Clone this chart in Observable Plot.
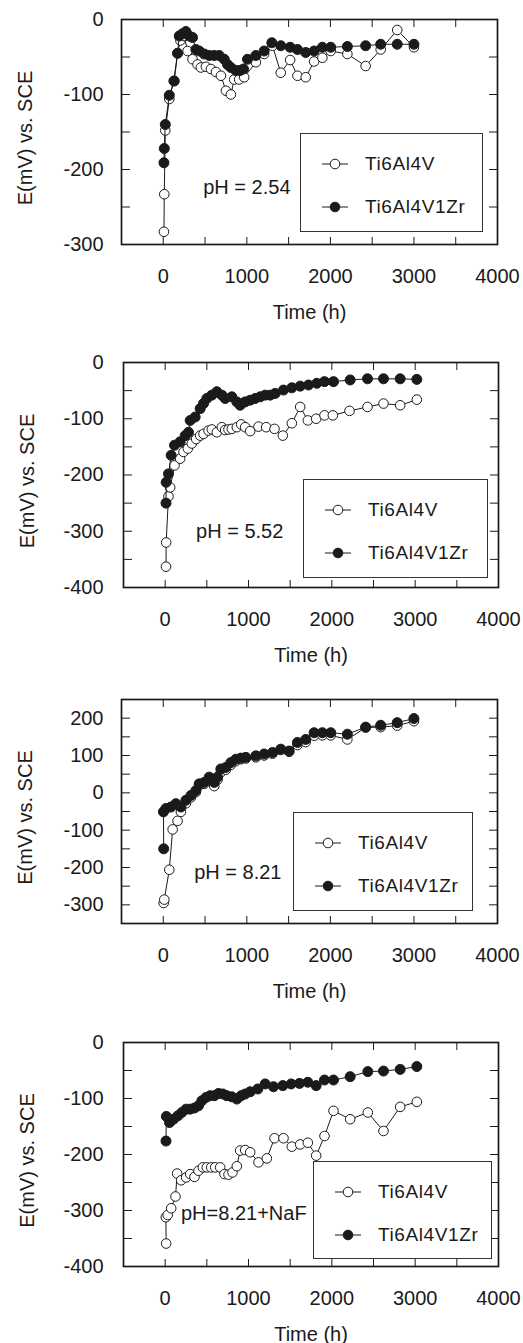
<!DOCTYPE html>
<html>
<head>
<meta charset="utf-8">
<script src="https://cdn.jsdelivr.net/npm/d3@7"></script>
<script src="https://cdn.jsdelivr.net/npm/@observablehq/plot@0.6"></script>
<style>
  html, body { margin: 0; padding: 0; background: #fff; }
  #root { position: relative; width: 523px; height: 1343px; font-family: "Liberation Sans", Arial, sans-serif; color: #1a1a1a; }
  .panel { position: absolute; left: 0; }
  .legend { position: absolute; background: #fff; border: 1px solid #333; box-sizing: border-box; }
  .row { position: absolute; left: 0; display: flex; align-items: center; font-size: 19px; letter-spacing: 0.6px; }
  .row svg { margin-right: 7px; }
</style>
</head>
<body>
<div id="root"></div>
<script>
// ---------- data ----------
const seriesNames = ["Ti6Al4V", "Ti6Al4V1Zr"];
const xMajorTicks = [0, 1000, 2000, 3000, 4000];
const xMinorTicks = [0, 500, 1000, 1500, 2000, 2500, 3000, 3500];
const phLabels = ["pH = 2.54", "pH = 5.52", "pH = 8.21", "pH=8.21+NaF"];

// Panel 1: pH 2.54
const tA1 = [8,12,24,72,125,171,205,250,291,350,410,450,510,570,630,690,750,809,849,908,968,1108,1207,1307,1406,1518,1606,1705,1805,1904,2004,2203,2422,2602,2800,3000];
const eA1 = [-283,-233,-148,-106,-82,-45,-28,-22,-42,-53,-60,-64,-63,-66,-70,-75,-95,-100,-80,-80,-77,-57,-46,-35,-71,-54,-75,-77,-56,-51,-42,-46,-62,-40,-14,-37];
const tB1 = [8,12,24,72,131,171,191,231,271,311,350,390,430,490,550,610,669,729,769,809,869,920,960,1008,1108,1207,1299,1406,1518,1606,1705,1805,1904,2004,2203,2422,2602,2800,3000];
const eB1 = [-191,-172,-140,-101,-82,-45,-22,-19,-16,-22,-24,-40,-42,-46,-48,-48,-48,-53,-60,-64,-68,-68,-66,-53,-48,-42,-31,-35,-37,-40,-44,-42,-37,-37,-36,-35,-33,-33,-33];

// Panel 2: pH 5.52
const tA2 = [10,12,40,60,112,180,220,272,320,372,420,460,520,560,620,680,720,760,800,860,912,960,1020,1120,1212,1312,1412,1520,1620,1712,1812,1912,2012,2212,2428,2620,2820,3020];
const eA2 = [-363,-320,-238,-222,-183,-171,-159,-153,-144,-136,-130,-127,-121,-119,-124,-115,-120,-119,-118,-115,-110,-115,-122,-114,-115,-118,-130,-108,-79,-103,-100,-94,-94,-86,-79,-73,-76,-66];
const tB2 = [10,12,40,72,112,180,240,280,300,360,420,460,500,560,620,680,720,800,860,900,960,1020,1080,1140,1200,1260,1320,1420,1520,1620,1720,1820,1912,2020,2220,2428,2620,2820,3020];
const eB2 = [-250,-213,-198,-165,-147,-141,-130,-124,-103,-97,-82,-73,-64,-58,-52,-58,-64,-61,-70,-76,-70,-67,-64,-61,-58,-58,-55,-49,-45,-42,-40,-37,-34,-34,-31,-29,-29,-29,-30];

// Panel 3: pH 8.21
const tA3 = [5,12,72,112,171,211,271,331,390,430,490,550,610,649,689,749,809,869,928,988,1108,1207,1307,1406,1506,1606,1705,1805,1904,2004,2203,2422,2602,2800,3000];
const eA3 = [-295,-286,-206,-98,-75,-51,-28,-12,2,20,24,38,18,35,55,62,75,85,90,92,95,100,105,115,110,128,136,153,154,154,143,175,176,180,192];
const tB3 = [5,2,32,92,151,211,271,331,390,430,490,550,610,649,689,749,809,869,928,988,1108,1207,1307,1406,1506,1606,1705,1805,1904,2004,2203,2422,2602,2800,3000];
const eB3 = [-150,-51,-42,-38,-29,-38,-20,-7,6,24,28,42,28,42,64,68,81,90,93,95,99,104,108,117,112,135,143,161,161,161,157,176,181,188,199];

// Panel 4: pH 8.21 + NaF
const tA4 = [12,8,30,72,124,144,192,252,300,352,400,452,500,552,600,660,712,760,808,860,900,960,1020,1120,1220,1312,1420,1520,1620,1712,1812,1912,2020,2220,2432,2620,2820,3020];
const eA4 = [-359,-312,-308,-296,-275,-234,-246,-241,-235,-240,-229,-223,-223,-223,-223,-223,-235,-236,-232,-221,-193,-192,-196,-214,-207,-171,-171,-186,-182,-179,-202,-167,-122,-137,-125,-158,-115,-106];
const tB4 = [10,14,52,100,152,200,252,300,352,400,440,492,540,592,640,692,740,800,860,912,960,1020,1112,1200,1300,1412,1512,1612,1712,1812,1912,2020,2220,2432,2620,2820,3020];
const eB4 = [-176,-132,-143,-137,-131,-125,-119,-119,-117,-113,-104,-98,-95,-95,-91,-92,-95,-97,-101,-95,-92,-88,-83,-74,-79,-77,-74,-73,-71,-77,-67,-67,-61,-52,-51,-48,-43];

// annotation anchor points (data coordinates)
const phX = [478, 371, 370, 190];
const phY = [-224, -300, -214, -305];

const yDomains = [[-300, 0], [-400, 0], [-350, 250], [-400, 0]];
const yMajorTicks = [[-300,-200,-100,0], [-400,-300,-200,-100,0], [-300,-200,-100,0,100,200], [-400,-300,-200,-100,0]];

// ---------- layout ----------
const layout = [
  {top: 0,    H: 335, mt: 19, mb: 91, ml: 121, mr: 26, legend: {l: 300, t: 133, w: 183, h: 99}},
  {top: 335,  H: 335, mt: 27, mb: 83, ml: 123, mr: 25, legend: {l: 303, t: 479, w: 185, h: 99}},
  {top: 670,  H: 335, mt: 29, mb: 82, ml: 121, mr: 26, legend: {l: 293, t: 812, w: 180, h: 99}},
  {top: 1005, H: 338, mt: 37, mb: 77, ml: 123, mr: 25, legend: {l: 313, t: 1161, w: 179, h: 98}}
];
const panelsA = [[tA1,eA1],[tA2,eA2],[tA3,eA3],[tA4,eA4]];
const panelsB = [[tB1,eB1],[tB2,eB2],[tB3,eB3],[tB4,eB4]];

const ink = "#1a1a1a";
const root = document.getElementById("root");

function rows(t, e) { return t.map((d, i) => ({t: d, e: e[i]})); }
function minorY(dom) {
  const out = [];
  for (let v = dom[0] + 50; v < dom[1]; v += 50) out.push(v);
  return out;
}

layout.forEach((L, i) => {
  const A = rows(...panelsA[i]);
  const B = rows(...panelsB[i]);
  const yMinor = minorY(yDomains[i]);
  const chart = Plot.plot({
    width: 523, height: L.H,
    marginLeft: L.ml, marginRight: L.mr, marginTop: L.mt, marginBottom: L.mb,
    style: {fontFamily: '"Liberation Sans", Arial, sans-serif', fontSize: "20px", color: ink, background: "white", overflow: "visible"},
    x: {domain: [-500, 4000], label: null},
    y: {domain: yDomains[i], label: null},
    marks: [
      Plot.axisX(xMajorTicks, {anchor: "bottom", tickSize: 0, tickPadding: 24, tickFormat: d => String(d), label: null, fontSize: 20, fill: ink}),
      Plot.axisX(xMinorTicks, {anchor: "bottom", tickSize: -7, tickFormat: () => "", label: null, stroke: ink}),
      Plot.axisX(xMinorTicks, {anchor: "top", tickSize: -7, tickFormat: () => "", label: null, stroke: ink}),
      Plot.axisY(yMajorTicks[i], {anchor: "left", tickSize: 0, tickPadding: i % 2 === 0 ? 18 : 20, tickFormat: d => String(d), label: null, fontSize: 20, fill: ink}),
      Plot.axisY(yMinor, {anchor: "left", tickSize: -9, tickFormat: () => "", label: null, stroke: ink}),
      Plot.axisY(yMinor, {anchor: "right", tickSize: -9, tickFormat: () => "", label: null, stroke: ink}),
      Plot.frame({stroke: ink, strokeWidth: 1.7}),
      Plot.text(["Time (h)"], {frameAnchor: "bottom", dy: 68, textAnchor: "middle", lineAnchor: "middle", fontSize: 20, fill: ink}),
      Plot.text(["E(mV) vs. SCE"], {frameAnchor: "left", dx: -96, dy: 6, rotate: -90, textAnchor: "middle", lineAnchor: "middle", fontSize: 20, fill: ink}),
      Plot.text([phLabels[i]], {x: phX[i], y: phY[i], textAnchor: "start", lineAnchor: "middle", fontSize: 20, fill: ink}),
      Plot.line(A, {x: "t", y: "e", stroke: ink, strokeWidth: 1}),
      Plot.dot(A, {x: "t", y: "e", r: 4.8, fill: "white", stroke: ink, strokeWidth: 1}),
      Plot.line(B, {x: "t", y: "e", stroke: ink, strokeWidth: 1}),
      Plot.dot(B, {x: "t", y: "e", r: 5, fill: ink, stroke: ink, strokeWidth: 1})
    ]
  });
  const wrap = document.createElement("div");
  wrap.className = "panel";
  wrap.style.top = L.top + "px";
  wrap.appendChild(chart);
  root.appendChild(wrap);

  // legend
  const lg = document.createElement("div");
  lg.className = "legend";
  lg.style.left = L.legend.l + "px";
  lg.style.top = L.legend.t + "px";
  lg.style.width = L.legend.w + "px";
  lg.style.height = L.legend.h + "px";
  seriesNames.forEach((name, k) => {
    const r = document.createElement("div");
    r.className = "row";
    r.style.top = (k === 0 ? 30 : 73) - 11 + "px";
    r.style.left = "19px";
    r.style.height = "22px";
    const fill = k === 0 ? "white" : ink;
    r.innerHTML = `<svg width="30" height="14"><line x1="2" y1="7" x2="28" y2="7" stroke="${ink}" stroke-width="1"/><circle cx="15" cy="7" r="4.8" fill="${fill}" stroke="${ink}" stroke-width="1"/></svg><span style="margin-left:8px">${name}</span>`;
    lg.appendChild(r);
  });
  root.appendChild(lg);
});
</script>
</body>
</html>
